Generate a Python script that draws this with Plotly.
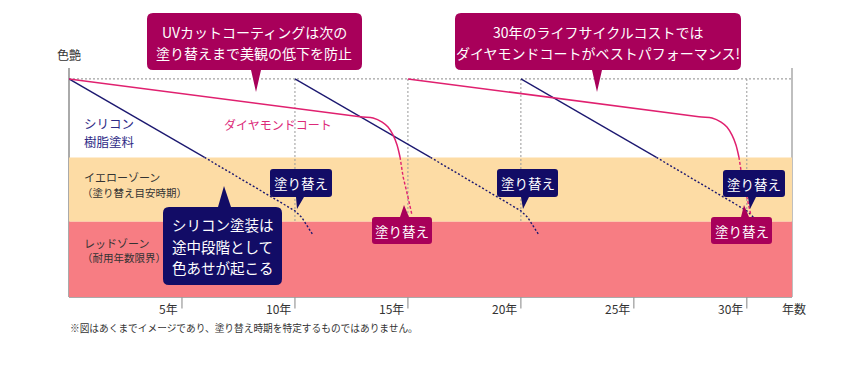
import plotly.graph_objects as go

# ---------------- data ----------------
tick_years = [5, 10, 15, 20, 25, 30]
tick_labels = ["5年", "10年", "15年", "20年", "25年", "30年"]
x_max = 32
y_max = 105

initial_gloss = 100
yellow_zone = [34.5, 64]      # 塗り替え目安時期
red_zone = [0, 34.5]          # 耐用年数限界

silicone_start_years = [0, 10, 20]
silicone_age = [0, 6.0, 10.0, 10.3, 10.55, 10.8]
silicone_gloss = [100, 64, 39.5, 36.5, 32.5, 28.4]
silicone_solid_until = 1      # index where the solid part ends (yellow zone reached)

diamond_start_years = [0, 15]
diamond_age = [0, 12.88, 13.46, 13.86, 14.12, 14.34, 14.52, 14.65, 14.79, 14.96, 15.18]
diamond_gloss = [100, 82.7, 82.1, 80.2, 77.9, 74.3, 69.7, 64.2, 55.0, 47.7, 37.6]
diamond_solid_until = 7

repaint_years = [10, 15, 20, 30]

NAVY = "#1c1870"
PINK = "#e0206f"
NAVY_BOX = "#120c66"
PINK_BOX = "#a8005a"
YELLOW = "#fddca5"
RED = "#f77d83"
GREY = "#aaaaaa"
FONT = "Noto Sans CJK JP, sans-serif"

# plot area in screen pixels
L, R, T, B = 69, 792, 68, 297
OFF = 8                      # page body margin
W, H = 860 - OFF, 368 - OFF


def px(x):
    return (x - L) / (R - L)


def py(y):
    return (B - y) / (B - T)


fig = go.Figure()

# ---------------- lines ----------------
for s in silicone_start_years:
    xs = [s + a for a in silicone_age]
    k = silicone_solid_until
    fig.add_trace(go.Scatter(x=xs[:k + 1], y=silicone_gloss[:k + 1], mode="lines",
                             line=dict(color=NAVY, width=1.3), hoverinfo="skip"))
    fig.add_trace(go.Scatter(x=xs[k:], y=silicone_gloss[k:], mode="lines",
                             line=dict(color=NAVY, width=1.4, dash="2px,2px"), hoverinfo="skip"))

for s in diamond_start_years:
    xs = [s + a for a in diamond_age]
    k = diamond_solid_until
    fig.add_trace(go.Scatter(x=xs[:k + 1], y=diamond_gloss[:k + 1], mode="lines",
                             line=dict(color=PINK, width=1.5, shape="spline", smoothing=0.8),
                             hoverinfo="skip"))
    fig.add_trace(go.Scatter(x=xs[k:], y=diamond_gloss[k:], mode="lines",
                             line=dict(color=PINK, width=1.4, dash="3px,2px"), hoverinfo="skip"))

# ---------------- background shapes ----------------
shapes = []
shapes.append(dict(type="rect", xref="x", yref="y", x0=0, x1=x_max, y0=yellow_zone[0], y1=yellow_zone[1],
                   fillcolor=YELLOW, line=dict(width=0), layer="below"))
shapes.append(dict(type="line", xref="x", yref="y", x0=0, x1=x_max, y0=initial_gloss, y1=initial_gloss,
                   line=dict(color="#8a8a8a", width=1, dash="2px,2px"), layer="below"))
for yr in repaint_years:
    shapes.append(dict(type="line", xref="x", yref="y", x0=yr, x1=yr, y0=0, y1=initial_gloss,
                       line=dict(color="#999999", width=1, dash="2px,2px"), layer="below"))
shapes.append(dict(type="rect", xref="x", yref="y", x0=0, x1=x_max, y0=red_zone[0], y1=red_zone[1],
                   fillcolor=RED, line=dict(width=0), layer="below"))
# axis frame
shapes.append(dict(type="line", xref="paper", yref="paper", x0=0, x1=0, y0=0, y1=1,
                   line=dict(color=GREY, width=2), layer="below"))
shapes.append(dict(type="line", xref="paper", yref="paper", x0=1, x1=1, y0=0, y1=1,
                   line=dict(color=GREY, width=1.5), layer="below"))
shapes.append(dict(type="line", xref="paper", yref="paper", x0=0, x1=1, y0=0, y1=0,
                   line=dict(color=GREY, width=2), layer="below"))
for t in tick_years:
    shapes.append(dict(type="line", xref="x", yref="paper", x0=t, x1=t,
                       y0=py(308.5), y1=py(285), line=dict(color="#999999", width=1.2), layer="below"))


# ---------------- callouts ----------------
def bubble(x0, y0, x1, y1, tip, base, side, color, r=4):
    tx, ty = tip
    b0, b1 = base
    d = f"M{px(x0 + r)},{py(y0)} "
    if side == "top":
        d += f"L{px(b0)},{py(y0)} L{px(tx)},{py(ty)} L{px(b1)},{py(y0)} "
    d += f"L{px(x1 - r)},{py(y0)} Q{px(x1)},{py(y0)} {px(x1)},{py(y0 + r)} "
    d += f"L{px(x1)},{py(y1 - r)} Q{px(x1)},{py(y1)} {px(x1 - r)},{py(y1)} "
    if side == "bottom":
        d += f"L{px(b1)},{py(y1)} L{px(tx)},{py(ty)} L{px(b0)},{py(y1)} "
    d += f"L{px(x0 + r)},{py(y1)} Q{px(x0)},{py(y1)} {px(x0)},{py(y1 - r)} "
    d += f"L{px(x0)},{py(y0 + r)} Q{px(x0)},{py(y0)} {px(x0 + r)},{py(y0)} Z"
    return dict(type="path", xref="paper", yref="paper", path=d, fillcolor=color,
                line=dict(width=0), layer="above")


annotations = []


def text(x, y, s, size, color, anchor="center", xshift=0):
    annotations.append(dict(x=px(x), y=py(y), xref="paper", yref="paper", text=s, showarrow=False,
                            xanchor=anchor, yanchor="middle", xshift=xshift,
                            font=dict(family=FONT, size=size, color=color)))


callouts = [
    # (x0, y0, x1, y1, tip, base, side, color, lines, line_ys, size, r)
    (147, 13, 362, 70, (256, 92), (251, 261), "bottom", PINK_BOX,
     ["UVカットコーティングは次の", "塗り替えまで美観の低下を防止"], [32, 53], 14, 6),
    (455, 13, 741, 70, (597, 92), (592, 602), "bottom", PINK_BOX,
     ["30年のライフサイクルコストでは", "ダイヤモンドコートがベストパフォーマンス!"], [32, 53], 14, 6),
    (163, 207, 282, 285, (224, 186), (218, 231), "top", NAVY_BOX,
     ["シリコン塗装は", "途中段階として", "色あせが起こる"], [225, 246, 267], 14.5, 6),
    (270, 169, 332, 197, (297, 209), (296, 304), "bottom", NAVY_BOX, ["塗り替え"], [183], 13.5, 3),
    (497, 169, 558, 197, (523, 209), (521, 529), "bottom", NAVY_BOX, ["塗り替え"], [183], 13.5, 3),
    (723, 170, 785, 197, (750, 209), (748, 756), "bottom", NAVY_BOX, ["塗り替え"], [183.5], 13.5, 3),
    (372, 217, 432, 244, (404, 205), (400, 409), "top", PINK_BOX, ["塗り替え"], [230.5], 13.5, 3),
    (711, 217, 772, 244, (744, 205), (741, 749), "top", PINK_BOX, ["塗り替え"], [230.5], 13.5, 3),
]
for (x0, y0, x1, y1, tip, base, side, color, lines, ys, size, r) in callouts:
    shapes.append(bubble(x0, y0, x1, y1, tip, base, side, color, r))
    for s, yy in zip(lines, ys):
        text((x0 + x1) / 2, yy, s, size, "white")

# ---------------- labels ----------------
text(68.5, 55, "色艶", 12, "#333333")
text(82, 123, "シリコン", 12.5, "#2e2a86", "left")
text(82, 141, "樹脂塗料", 12.5, "#2e2a86", "left")
text(222, 124, "ダイヤモンドコート", 12, "#dc2a79", "left")
text(82, 177, "イエローゾーン", 11, "#333333", "left")
text(80, 192, "（塗り替え目安時期）", 10.5, "#333333", "left")
text(82, 243, "レッドゾーン", 11, "#333333", "left")
text(80, 257, "（耐用年数限界）", 10.5, "#333333", "left")

for t, lab in zip(tick_years, tick_labels):
    annotations.append(dict(x=t, y=py(308), xref="x", yref="paper", text=lab, showarrow=False,
                            xanchor="right", yanchor="middle", xshift=-2,
                            font=dict(family=FONT, size=12, color="#333333")))
text(794, 308, "年数", 12, "#333333")
text(68, 328, "※図はあくまでイメージであり、塗り替え時期を特定するものではありません。", 9.7, "#333333", "left")

fig.update_layout(
    width=W, height=H,
    margin=dict(l=L - OFF, r=W - (R - OFF), t=T - OFF, b=H - (B - OFF), pad=0),
    paper_bgcolor="white", plot_bgcolor="white",
    showlegend=False,
    xaxis=dict(range=[0, x_max], visible=False, fixedrange=True),
    yaxis=dict(range=[0, y_max], visible=False, fixedrange=True),
    shapes=shapes,
    annotations=annotations,
)

fig.write_html("out.html")
